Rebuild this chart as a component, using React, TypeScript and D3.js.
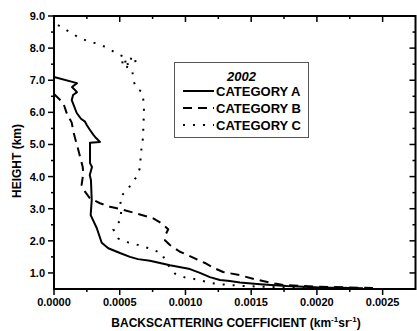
import React from 'react';
import * as d3 from 'd3';

// heights in km, backscattering in km^-1 sr^-1
const catAHeight = [7.10, 6.91, 6.79, 6.63, 6.54, 6.38, 5.98, 5.80, 5.71, 5.60, 5.45, 5.30, 5.20, 5.08, 5.05, 4.42, 4.30, 4.05, 3.89, 3.27, 2.80, 2.40, 1.94, 1.77, 1.62, 1.50, 1.43, 1.38, 1.24, 1.12, 1.00, 0.87, 0.78, 0.75, 0.70, 0.65, 0.59, 0.55, 0.54, 0.52];
const catAValue = [0.0, 0.000175, 0.000137, 0.000175, 0.000145, 0.000135, 0.000173, 0.000205, 0.000236, 0.00025, 0.000274, 0.0003, 0.00032, 0.00035, 0.000274, 0.000274, 0.000289, 0.000272, 0.000281, 0.000287, 0.000279, 0.000325, 0.000363, 0.000413, 0.000502, 0.000578, 0.000639, 0.00073, 0.000882, 0.001034, 0.00111, 0.001186, 0.001262, 0.001338, 0.001414, 0.001567, 0.00177, 0.002023, 0.002175, 0.00235];

const catBHeight = [6.57, 6.29, 5.97, 5.68, 5.40, 5.20, 4.83, 4.62, 4.31, 4.11, 3.74, 3.53, 3.32, 3.17, 3.06, 2.99, 2.85, 2.70, 2.54, 2.36, 2.20, 2.02, 1.87, 1.66, 1.55, 1.40, 1.31, 1.14, 1.03, 0.93, 0.79, 0.67, 0.62, 0.57, 0.53];
const catBValue = [0.0, 0.000071, 0.000097, 0.000135, 0.000147, 0.00016, 0.000185, 0.000198, 0.000218, 0.000223, 0.00021, 0.000236, 0.000274, 0.00035, 0.000426, 0.000502, 0.000629, 0.000755, 0.000819, 0.000869, 0.00085, 0.000844, 0.000882, 0.000958, 0.001021, 0.001097, 0.001148, 0.001224, 0.001287, 0.001414, 0.001541, 0.001681, 0.001757, 0.002023, 0.002426];

const catCHeight = [8.72, 8.51, 8.34, 8.20, 8.13, 7.96, 7.79, 7.69, 7.60, 7.57, 7.53, 7.45, 7.38, 7.16, 6.95, 6.76, 6.64, 6.49, 6.17, 5.92, 5.57, 5.26, 4.93, 4.60, 4.27, 4.00, 3.63, 3.35, 3.01, 2.67, 2.36, 2.07, 1.95, 1.87, 1.76, 1.61, 1.30, 0.98, 0.86, 0.80, 0.69, 0.65, 0.60, 0.55, 0.53];
const catCValue = [0.00003, 0.000116, 0.000185, 0.000266, 0.000344, 0.000426, 0.000494, 0.00057, 0.000639, 0.000494, 0.000578, 0.000522, 0.00059, 0.000601, 0.000608, 0.000624, 0.000667, 0.000677, 0.000684, 0.000684, 0.000679, 0.000679, 0.000667, 0.000659, 0.000654, 0.000629, 0.000565, 0.000502, 0.00051, 0.00051, 0.000451, 0.000489, 0.000565, 0.000641, 0.00073, 0.000819, 0.000857, 0.00092, 0.000996, 0.001085, 0.001186, 0.001262, 0.001414, 0.00172, 0.00195];

const xTicks = [0, 0.0005, 0.001, 0.0015, 0.002, 0.0025];
const yTicks = [1, 2, 3, 4, 5, 6, 7, 8, 9];
const legendTitle = '2002';
const seriesNames = ['CATEGORY A', 'CATEGORY B', 'CATEGORY C'];

const font = "Arial, 'Liberation Sans', sans-serif";

const App = () => {
  const left = 54, right = 415.5, top = 16, bottom = 289;

  const x = d3.scaleLinear().domain([0, 0.00275]).range([left, right]);
  const y = d3.scaleLinear().domain([0.5, 9.0]).range([bottom, top]);

  const series = [
    { h: catAHeight, v: catAValue, dash: null },
    { h: catBHeight, v: catBValue, dash: '9,6' },
    { h: catCHeight, v: catCValue, dash: '2,8' },
  ];

  const line = d3.line<[number, number]>()
    .x(d => x(d[0]))
    .y(d => y(d[1]));

  // minor ticks every half step
  const xMinor = d3.range(0.00025, 0.00275, 0.0005);
  const yMinor = d3.range(1.5, 9.0, 1.0).concat([0.5 + 0.0001]).filter(d => d > 0.55);

  const fmtX = d3.format('.4f');
  const fmtY = d3.format('.1f');

  return (
    <svg width={417} height={331} style={{ position: 'absolute', left: 0, top: 0, background: 'white', fontFamily: font }}>
      {/* curves */}
      {series.map((s, i) => (
        <path key={i}
          d={line(s.v.map((v, j) => [v, s.h[j]] as [number, number])) || ''}
          fill="none" stroke="black" strokeWidth={2}
          strokeDasharray={s.dash || undefined}
          strokeLinejoin="round" />
      ))}

      {/* frame */}
      <rect x={left} y={top} width={right - left} height={bottom - top} fill="none" stroke="black" strokeWidth={2} />

      {/* bottom / top ticks */}
      {xTicks.map(t => (
        <g key={'xt' + t}>
          <line x1={x(t)} x2={x(t)} y1={bottom} y2={bottom + 6} stroke="black" strokeWidth={1.5} />
          <line x1={x(t)} x2={x(t)} y1={top} y2={top + 6} stroke="black" strokeWidth={1.5} />
          <text x={x(t)} y={306} textAnchor="middle" fontSize={11} fontWeight="bold">{fmtX(t)}</text>
        </g>
      ))}
      {xMinor.map(t => (
        <g key={'xm' + t}>
          <line x1={x(t)} x2={x(t)} y1={bottom} y2={bottom + 3} stroke="black" strokeWidth={1.5} />
          <line x1={x(t)} x2={x(t)} y1={top} y2={top + 3} stroke="black" strokeWidth={1.5} />
        </g>
      ))}

      {/* left / right ticks */}
      {yTicks.map(t => (
        <g key={'yt' + t}>
          <line x1={left - 6} x2={left} y1={y(t)} y2={y(t)} stroke="black" strokeWidth={1.5} />
          <line x1={right - 6} x2={right} y1={y(t)} y2={y(t)} stroke="black" strokeWidth={1.5} />
          <text x={45} y={y(t) + 4} textAnchor="end" fontSize={11} fontWeight="bold">{fmtY(t)}</text>
        </g>
      ))}
      {yMinor.map(t => (
        <g key={'ym' + t}>
          <line x1={left - 3} x2={left} y1={y(t)} y2={y(t)} stroke="black" strokeWidth={1.5} />
          <line x1={right - 3} x2={right} y1={y(t)} y2={y(t)} stroke="black" strokeWidth={1.5} />
        </g>
      ))}

      {/* axis titles */}
      <text x={236} y={327} textAnchor="middle" fontSize={12} fontWeight="bold">
        BACKSCATTERING COEFFICIENT (km
        <tspan dy={-5} fontSize={8}>-1</tspan>
        <tspan dy={5}>sr</tspan>
        <tspan dy={-5} fontSize={8}>-1</tspan>
        <tspan dy={5}>)</tspan>
      </text>
      <text transform={`translate(21,${161}) rotate(-90)`} textAnchor="middle" fontSize={12} fontWeight="bold">HEIGHT (km)</text>

      {/* legend */}
      <g>
        <rect x={174.5} y={62.5} width={134} height={75} fill="white" stroke="#555" strokeWidth={1} />
        <text x={241.5} y={81} textAnchor="middle" fontSize={13} fontWeight="bold" fontStyle="italic">{legendTitle}</text>
        {seriesNames.map((name, i) => {
          const ly = 91 + i * 17;
          return (
            <g key={name}>
              <line x1={183} x2={214} y1={ly} y2={ly} stroke="black" strokeWidth={2}
                strokeDasharray={series[i].dash || undefined} />
              <text x={216} y={ly + 5} fontSize={13} fontWeight="bold">{name}</text>
            </g>
          );
        })}
      </g>
    </svg>
  );
};

export default App;
